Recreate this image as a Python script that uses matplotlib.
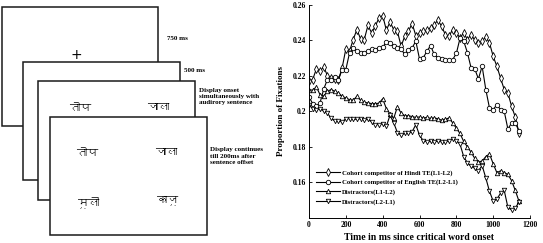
import matplotlib
matplotlib.use("Agg")
import matplotlib.pyplot as plt
from matplotlib.patches import Rectangle
from matplotlib import font_manager as fm
from matplotlib.ft2font import FT2Font

# ---------------- data ----------------
time_ms = [0, 20, 40, 60, 80, 100, 120, 140, 160, 180, 200, 220, 240, 260, 280,
           300, 320, 340, 360, 380, 400, 420, 440, 460, 480, 500, 520, 540, 560,
           580, 600, 620, 640, 660, 680, 700, 720, 740, 760, 780, 800, 820, 840,
           860, 880, 900, 920, 940, 960, 980, 1000, 1020, 1040, 1060, 1080, 1100,
           1120, 1140]

hindi_te = [0.2172, 0.2178, 0.2238, 0.2225, 0.2250, 0.2200, 0.2187, 0.2182, 0.2178,
            0.2244, 0.2350, 0.2337, 0.2403, 0.2459, 0.2407, 0.2403, 0.2482, 0.2441,
            0.2478, 0.2525, 0.2538, 0.2456, 0.2502, 0.2459, 0.2450, 0.2365, 0.2422,
            0.2450, 0.2493, 0.2425, 0.2441, 0.2450, 0.2455, 0.2469, 0.2487, 0.2512,
            0.2478, 0.2431, 0.2422, 0.2459, 0.2441, 0.2412, 0.2441, 0.2403, 0.2431,
            0.2400, 0.2384, 0.2394, 0.2418, 0.2384, 0.2309, 0.2253, 0.2187, 0.2122,
            0.2103, 0.2028, 0.1968, 0.1878]

english_te = [0.2080, 0.2043, 0.2028, 0.2047, 0.2125, 0.2178, 0.2178, 0.2193, 0.2178,
              0.2234, 0.2234, 0.2328, 0.2356, 0.2337, 0.2328, 0.2328, 0.2337, 0.2350,
              0.2347, 0.2356, 0.2360, 0.2388, 0.2381, 0.2366, 0.2356, 0.2350, 0.2319,
              0.2347, 0.2356, 0.2394, 0.2294, 0.2300, 0.2337, 0.2369, 0.2319, 0.2300,
              0.2294, 0.2290, 0.2290, 0.2290, 0.2325, 0.2410, 0.2394, 0.2330, 0.2244,
              0.2238, 0.2182, 0.2253, 0.2122, 0.2018, 0.2009, 0.2037, 0.2009, 0.2000,
              0.1900, 0.1934, 0.1934, 0.1890]

distr_l1l2 = [0.2122, 0.2118, 0.2137, 0.2093, 0.2085, 0.2112, 0.2122, 0.2112, 0.2103,
              0.2084, 0.2075, 0.2065, 0.2062, 0.2084, 0.2062, 0.2050, 0.2047, 0.2043,
              0.2043, 0.2045, 0.2070, 0.2015, 0.1985, 0.1960, 0.2025, 0.1990, 0.1975,
              0.1975, 0.1970, 0.1965, 0.1968, 0.1962, 0.1965, 0.1960, 0.1962, 0.1958,
              0.1950, 0.1955, 0.1962, 0.1935, 0.1905, 0.1875, 0.1830, 0.1800, 0.1770,
              0.1735, 0.1715, 0.1720, 0.1745, 0.1760, 0.1705, 0.1655, 0.1665, 0.1655,
              0.1645, 0.1610, 0.1555, 0.1495]

distr_l2l1 = [0.2035, 0.2015, 0.2005, 0.2015, 0.2000, 0.1990, 0.1960, 0.1945, 0.1945,
              0.1940, 0.1958, 0.1958, 0.1955, 0.1955, 0.1958, 0.1950, 0.1955, 0.1940,
              0.1925, 0.1925, 0.1930, 0.1915, 0.1978, 0.1935, 0.1880, 0.1865, 0.1875,
              0.1875, 0.1885, 0.1925, 0.1865, 0.1835, 0.1828, 0.1830, 0.1828, 0.1832,
              0.1828, 0.1825, 0.1835, 0.1845, 0.1835, 0.1815, 0.1745, 0.1710, 0.1690,
              0.1680, 0.1665, 0.1695, 0.1625, 0.1550, 0.1495, 0.1505, 0.1540, 0.1555,
              0.1460, 0.1445, 0.1455, 0.1490]

series_labels = ["Cohort competitor of Hindi TE(L1-L2)",
                 "Cohort competitor of English TE(L2-L1)",
                 "Distractors(L1-L2)",
                 "Distractors(L2-L1)"]
series_markers = ["d", "o", "^", "v"]

x_ticks = [0, 200, 400, 600, 800, 1000, 1200]
y_ticks = [0.16, 0.18, 0.2, 0.22, 0.24, 0.26]
y_ticklabels = ["0.16", "0.18", "0.2", "0.22", "0.24", "0.26"]

timing_labels = ["750 ms", "500 ms",
                 "Display onset\nsimultaneously with\naudirory sentence",
                 "Display continues\ntill 200ms after\nsentence offset"]
words_screen3 = ["तोप", "जाला"]
words_screen4 = ["तोप", "जाला", "मूली", "काजू"]

# ---------------- fonts ----------------
SERIF = "Liberation Serif"


def find_devanagari_font():
    for f in fm.fontManager.ttflist:
        try:
            cmap = FT2Font(f.fname).get_charmap()
        except Exception:
            continue
        if 0x0924 in cmap and 0x0942 in cmap:
            return f.name
    return None


deva = find_devanagari_font()
deva_family = [deva, "DejaVu Sans"] if deva else ["DejaVu Sans"]

# ---------------- figure ----------------
W, H = 543, 243
fig = plt.figure(figsize=(W / 100, H / 100), dpi=100)

# left diagram in pixel coordinates
dax = fig.add_axes([0, 0, 1, 1])
dax.set_xlim(0, W)
dax.set_ylim(H, 0)
dax.axis("off")

screens = [(2, 7, 158, 126), (22.7, 61.7, 180, 180),
           (38.3, 80.7, 195, 200), (50, 117.3, 206.7, 235)]
for i, (x0, y0, x1, y1) in enumerate(screens):
    dax.add_patch(Rectangle((x0, y0), x1 - x0, y1 - y0, facecolor="white",
                            edgecolor="#1a1a1a", linewidth=1.1, zorder=2 + i))

dax.text(76, 55, "+", ha="center", va="center", fontsize=10,
         family="DejaVu Sans", zorder=10)
dax.text(167, 38, timing_labels[0], ha="left", va="center", fontsize=5,
         family=SERIF, weight="bold", zorder=10)
dax.text(184, 70, timing_labels[1], ha="left", va="center", fontsize=5,
         family=SERIF, weight="bold", zorder=10)
dax.text(199, 96.5, timing_labels[2], ha="left", va="center", fontsize=5,
         family=SERIF, weight="bold", linespacing=1.35, zorder=10)
dax.text(210, 156, timing_labels[3], ha="left", va="center", fontsize=5,
         family=SERIF, weight="bold", linespacing=1.35, zorder=10)

for (wx, wy), w in zip([(80, 108), (158, 107)], words_screen3):
    dax.text(wx, wy, w, ha="center", va="center", fontsize=8,
             family=deva_family, weight="bold", zorder=4.5)
for (wx, wy), w in zip([(87, 153), (166, 152), (89, 202), (168, 200)], words_screen4):
    dax.text(wx, wy, w, ha="center", va="center", fontsize=8,
             family=deva_family, weight="bold", zorder=10)

# right chart
ax = fig.add_axes([309 / W, 1 - 218 / H, (530 - 309) / W, (218 - 4.5) / H])
for vals, lab, mk in zip([hindi_te, english_te, distr_l1l2, distr_l2l1],
                         series_labels, series_markers):
    ax.plot(time_ms, vals, color="black", linewidth=0.8, marker=mk,
            markersize=3.2 if mk != "d" else 3.6, markerfacecolor="white",
            markeredgecolor="black", markeredgewidth=0.6, label=lab)

ax.set_xlim(0, 1200)
ax.set_ylim(0.14, 0.26)
ax.set_xticks(x_ticks)
ax.set_yticks(y_ticks)
ax.set_yticklabels(y_ticklabels)
ax.tick_params(direction="in", length=2, width=0.6, labelsize=5.5, pad=2)
for lbl in ax.get_xticklabels() + ax.get_yticklabels():
    lbl.set_family(SERIF)
    lbl.set_weight("bold")
ax.spines["top"].set_visible(False)
ax.spines["right"].set_visible(False)
ax.spines["left"].set_linewidth(0.7)
ax.spines["bottom"].set_linewidth(0.7)

ax.set_xlabel("Time in ms since critical word onset", family=SERIF,
              weight="bold", fontsize=7, labelpad=3)
ax.set_ylabel("Proportion of Fixations", family=SERIF, weight="bold",
              fontsize=6.5, labelpad=6)

leg = ax.legend(loc="lower left", bbox_to_anchor=(0.02, 0.05), frameon=False,
                prop={"family": SERIF, "weight": "bold", "size": 4.8},
                handlelength=3.6, handletextpad=0.3, labelspacing=0.55,
                borderaxespad=0.0)

fig.savefig("out.png", dpi=100)
